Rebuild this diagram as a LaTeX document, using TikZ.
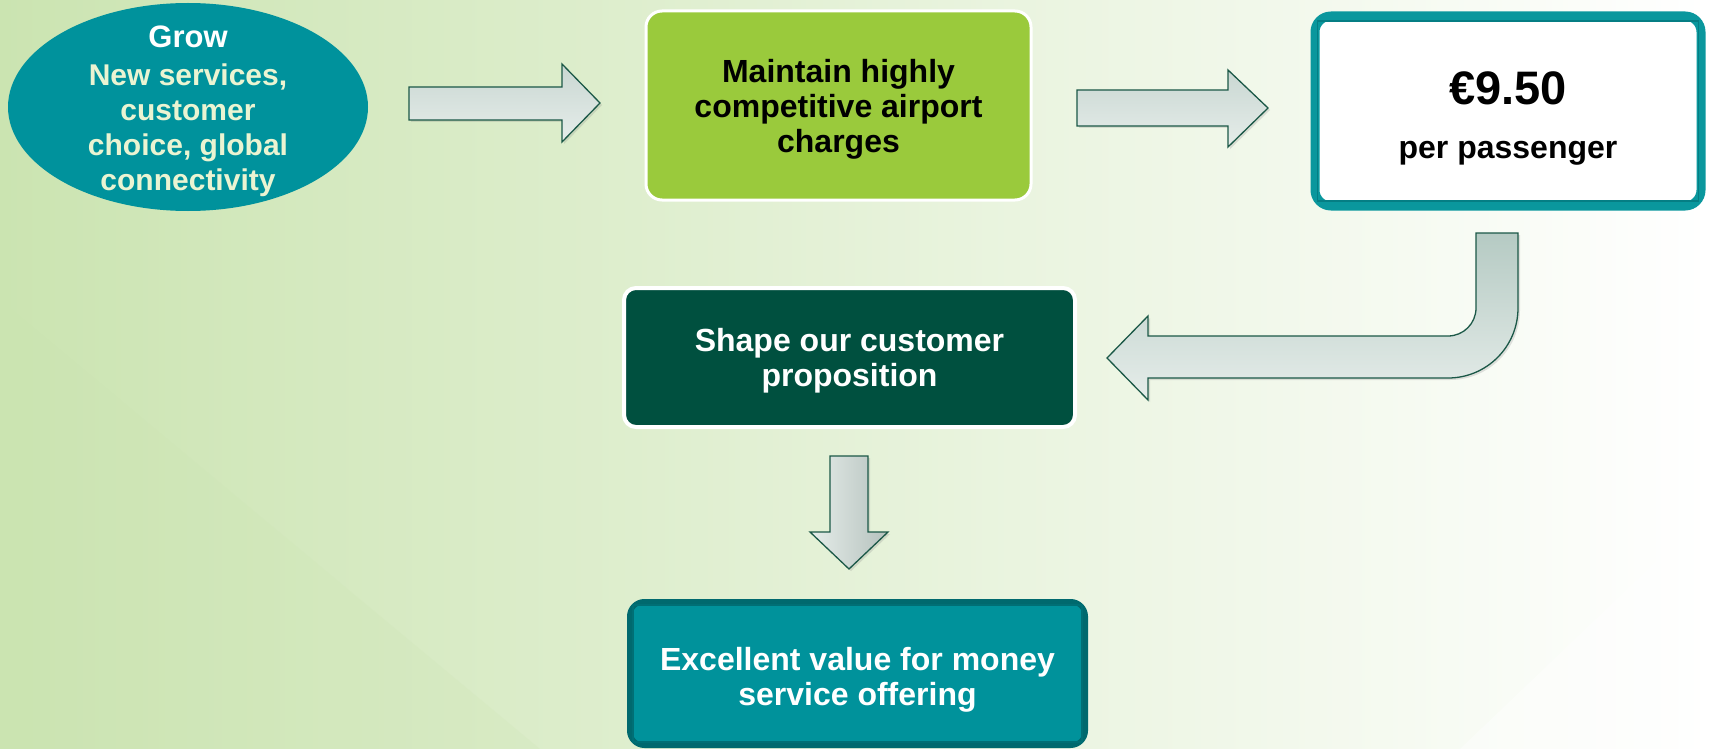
\documentclass[tikz,border=0pt]{standalone}
\usepackage{fontspec}
\setmainfont{Liberation Sans}
\usetikzlibrary{shapes.geometric,shadows}
\definecolor{tealA}{HTML}{00929C}
\definecolor{cream}{HTML}{EAF4D2}
\definecolor{limeG}{HTML}{9ACA3C}
\definecolor{darkG}{HTML}{00503F}
\definecolor{tealB}{HTML}{0A979D}
\definecolor{tealBin}{HTML}{057E84}
\definecolor{tealC}{HTML}{00696E}
\definecolor{tealD}{HTML}{00929B}
\definecolor{arrowline}{HTML}{1B5847}
\definecolor{arrowtop}{HTML}{C9D7D2}
\definecolor{arrowbot}{HTML}{E6EDEA}
\definecolor{arrowdark}{HTML}{B5CAC3}
\definecolor{bgL}{HTML}{CBE4B1}
\definecolor{bgM}{HTML}{E9F4E0}
\begin{document}
\begin{tikzpicture}[x=1pt,y=-1pt,
  blockarrow/.style={draw=arrowline, line width=1.3pt, line join=miter,
    drop shadow={shadow xshift=2pt,shadow yshift=-2pt,opacity=0.22}},
  txt/.style={font=\fontsize{32}{35}\selectfont\bfseries, align=center, inner sep=0pt}]
% background
\useasboundingbox (0,0) rectangle (1710,749);
\fill[left color=bgL, middle color=bgM, right color=white] (0,0) rectangle (1710,749);
\fill[bgL, opacity=0.2] (0,300) -- (540,749) -- (0,749) -- cycle;
\fill[white, opacity=0.4] (1460,749) -- (1710,510) -- (1710,749) -- cycle;
% ellipse
\node[ellipse, fill=tealA, minimum width=360, minimum height=208, inner sep=0pt] (grow) at (188,107) {};
\node[txt, text=cream, font=\fontsize{30}{35}\selectfont\bfseries] (growtxt) at (188,111)
  {\textcolor{white}{\fontsize{31}{35}\selectfont Grow}\\[3pt]New services,\\customer\\choice, global\\connectivity};
% green box
\node[draw=white, line width=3pt, fill=limeG, rounded corners=16pt,
  minimum width=385, minimum height=189] (maint) at (838.5,105.5) {};
\node[txt, text=black] (mainttxt) at (838.5,109)
  {Maintain highly\\competitive airport\\charges};
% price box
\node[draw=tealB, line width=9pt, fill=white, rounded corners=16pt,
  minimum width=386, minimum height=190] (price) at (1508,111) {};
\draw[tealBin, line width=1.2pt] (1317.5,21) rectangle (1698.5,201);
\node[txt, font=\fontsize{47}{47}\selectfont\bfseries] (pricetxt) at (1508,88) {€9.50};
\node[txt] (pertxt) at (1508,153) {per passenger};
% dark box
\node[draw=white, line width=4pt, fill=darkG, rounded corners=12pt,
  minimum width=451, minimum height=139] (shape) at (849.5,357.5) {};
\node[txt, text=white] (shapetxt) at (849.5,361) {Shape our customer\\proposition};
% bottom box
\node[draw=tealC, line width=5pt, fill=tealD, rounded corners=15pt,
  minimum width=456, minimum height=144] (excel) at (857.5,673.5) {};
\draw[tealC!85!tealD, line width=1.2pt] (633,605) rectangle (1082,742);
\node[txt, text=white] (exceltxt) at (857.5,680) {Excellent value for money\\service offering};
% arrows
\draw[blockarrow, top color=arrowtop, bottom color=arrowbot]
  (409,87) -- (562,87) -- (562,64) -- (600,103) -- (562,142) -- (562,120) -- (409,120) -- cycle;
\draw[blockarrow, top color=arrowtop, bottom color=arrowbot]
  (1077,90) -- (1228,90) -- (1228,70) -- (1268,108) -- (1228,147) -- (1228,126) -- (1077,126) -- cycle;
\draw[blockarrow, top color=arrowdark, bottom color=arrowbot]
  (1476,233) -- (1518,233) -- (1518,308) arc[start angle=0, end angle=90, radius=70]
  -- (1148,378) -- (1148,400) -- (1107,358) -- (1148,316) -- (1148,336) -- (1448,336)
  arc[start angle=90, end angle=0, radius=28] -- cycle;
\draw[blockarrow, left color=arrowbot, right color=arrowtop!90!black]
  (830,456) -- (868,456) -- (868,532) -- (888,532) -- (849,569) -- (810,532) -- (830,532) -- cycle;
\end{tikzpicture}
\end{document}
